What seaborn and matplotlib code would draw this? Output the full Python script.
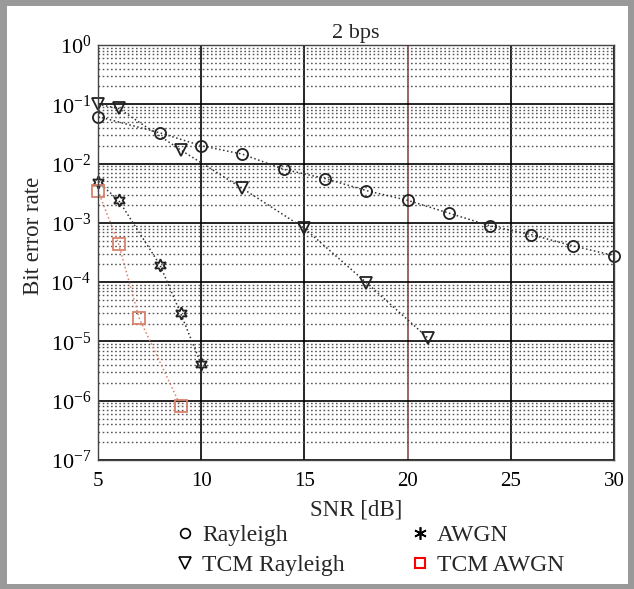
import numpy as np
import pandas as pd
import matplotlib
matplotlib.use("Agg")
import matplotlib.pyplot as plt
from matplotlib.lines import Line2D
from matplotlib.patches import Rectangle
import matplotlib.ticker as mticker
import seaborn as sns

# ---- data ----
snr_rayleigh = [5, 8, 10, 12, 14, 16, 18, 20, 22, 24, 26, 28, 30]
ber_rayleigh = [0.062, 0.033, 0.020, 0.0144, 0.0080, 0.0056, 0.0035, 0.0024,
                0.00146, 0.00089, 0.00063, 0.00041, 0.00028]
snr_tcm_rayleigh = [5, 6, 9, 12, 15, 18, 21]
ber_tcm_rayleigh = [0.10, 0.085, 0.017, 0.0038, 0.00081, 9.8e-5, 1.13e-5]
snr_awgn = [5, 6, 8, 9, 10]
ber_awgn = [0.0049, 0.0024, 0.000195, 3.0e-5, 4.1e-6]
snr_tcm_awgn = [5, 6, 7, 9]
ber_tcm_awgn = [0.0035, 0.00044, 2.45e-5, 8.2e-7]

labels = ["Rayleigh", "TCM Rayleigh", "AWGN", "TCM AWGN"]
x_ticks = [5, 10, 15, 20, 25, 30]

sns.set_theme(style="white")
plt.rcParams["font.family"] = ["Liberation Serif", "DejaVu Serif"]
plt.rcParams["mathtext.fontset"] = "custom"
plt.rcParams["mathtext.rm"] = "Liberation Serif"
plt.rcParams["mathtext.it"] = "Liberation Serif:italic"
plt.rcParams["mathtext.bf"] = "Liberation Serif:bold"

fig = plt.figure(figsize=(6.34, 5.89), dpi=100)
ax = fig.add_axes([98/634, 1-460/589, (614-98)/634, (460-45)/589])

star6 = (6, 1, 0)
red_sq = "#d9826a"

common = dict(linestyle=":", linewidth=1.1, markerfacecolor="none",
              markeredgewidth=1.3, clip_on=False)
sns.lineplot(x=snr_rayleigh, y=ber_rayleigh, ax=ax, color="#333333",
             marker="o", markersize=8, markeredgecolor="#222222", **common)
sns.lineplot(x=snr_tcm_rayleigh, y=ber_tcm_rayleigh, ax=ax, color="#333333",
             marker="v", markersize=9, markeredgecolor="#222222", **common)
sns.lineplot(x=snr_awgn, y=ber_awgn, ax=ax, color="#333333",
             marker=star6, markersize=9, markeredgecolor="#222222", **common)
sns.lineplot(x=snr_tcm_awgn, y=ber_tcm_awgn, ax=ax, color=red_sq,
             marker="s", markersize=8, markeredgecolor=red_sq, **common)

ax.set_yscale("log")
ax.set_xlim(5, 30)
ax.set_ylim(1e-7, 1)
ax.set_xticks(x_ticks)
ax.yaxis.set_major_locator(mticker.LogLocator(base=10, numticks=10))
ax.yaxis.set_major_formatter(mticker.FuncFormatter(
    lambda v, p: r"$\mathregular{10^{%d}}$" % int(round(np.log10(v)))))
ax.yaxis.set_minor_locator(mticker.LogLocator(base=10, subs=np.arange(2, 10), numticks=20))
ax.yaxis.set_minor_formatter(mticker.NullFormatter())

ax.grid(True, which="major", axis="both", color="black", linewidth=1.2, linestyle="-")
ax.grid(True, which="minor", axis="y", color="#555555", linewidth=1.0, linestyle=(0, (1.2, 1.8)))
for gl, xv in zip(ax.get_xgridlines(), x_ticks):
    if xv == 20:
        gl.set_color("#8a4a4a")
ax.set_axisbelow(True)

for s in ax.spines.values():
    s.set_color("#444444")
    s.set_linewidth(1.0)
ax.tick_params(axis="both", which="both", length=0, colors="black")
ax.tick_params(axis="x", labelsize=15, pad=9)
ax.tick_params(axis="y", labelsize=16, pad=5)

ax.set_title("2 bps", fontsize=16, pad=5)
ax.set_xlabel("SNR [dB]", fontsize=16.5, labelpad=6)
ax.set_ylabel("Bit error rate", fontsize=16.5)
ax.yaxis.set_label_coords((44 - 98) / 516, (460 - 236) / 415)

handles = [
    Line2D([], [], linestyle="none", marker="o", markersize=7, markerfacecolor="none",
           markeredgecolor="black", markeredgewidth=1.2),
    Line2D([], [], linestyle="none", marker="v", markersize=8, markerfacecolor="none",
           markeredgecolor="black", markeredgewidth=1.2),
    Line2D([], [], linestyle="none", marker=(6, 2, 0), markersize=9, markerfacecolor="black",
           markeredgecolor="black", markeredgewidth=1.2),
    Line2D([], [], linestyle="none", marker="s", markersize=7, markerfacecolor="none",
           markeredgecolor="red", markeredgewidth=1.5),
]
fig.legend(handles, labels, loc="upper center", bbox_to_anchor=(370/634, 1-508/589),
           ncol=2, frameon=False, fontsize=17, handlelength=0.8, handletextpad=0.32,
           columnspacing=2.8, labelspacing=0.35, borderpad=0.2)

fig.patches.append(Rectangle((0.004, 0.004), 0.992, 0.992, transform=fig.transFigure,
                             fill=False, edgecolor="#999999", linewidth=5))

fig.savefig("out.png", dpi=100)
